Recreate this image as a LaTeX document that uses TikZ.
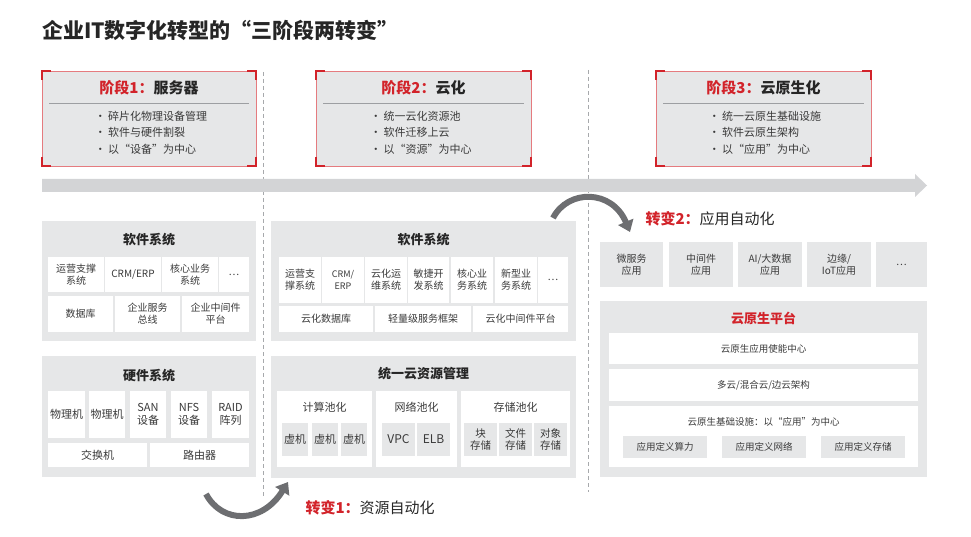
\documentclass[tikz,border=0pt]{standalone}
\usepackage{fontspec}
\setmainfont{Noto Sans CJK SC}
\usetikzlibrary{arrows.meta}
\definecolor{pgray}{HTML}{E6E7E8}
\definecolor{band}{HTML}{D3D4D6}
\definecolor{hred}{HTML}{D2232A}
\definecolor{lred}{HTML}{E57B7F}
\definecolor{txt}{HTML}{3A3A3A}
\definecolor{dtxt}{HTML}{262626}
\definecolor{swg}{HTML}{6D6E71}
\definecolor{dashc}{HTML}{A7A9AC}
\definecolor{sepc}{HTML}{9D9FA2}
\newcommand\bx[7]{\node[#2, anchor=north west, minimum width={(#5-#3)*1pt}, minimum height={(#6-#4)*1pt}] (#1) at (#3,#4) {#7};}
\tikzset{
  panel/.style={fill=pgray, inner sep=0pt, outer sep=0pt},
  hbox/.style={fill=pgray, draw=lred, line width=0.8pt, inner sep=0pt, outer sep=0pt},
  corner/.style={draw=hred, line width=2pt},
  cell/.style={fill=white, inner sep=0pt, outer sep=0pt, align=center, text=txt, font=\fontsize{10}{12}\selectfont},
  gcell/.style={cell, fill=pgray},
  bcell/.style={cell, font=\fontsize{11}{13}\selectfont},
  gbcell/.style={gcell, font=\fontsize{11}{13}\selectfont},
  ptitle/.style={text=dtxt, font=\fontsize{13}{15}\selectfont\bfseries},
  stitle/.style={text=txt, font=\fontsize{11}{13}\selectfont},
  htitle/.style={text=dtxt, font=\fontsize{15}{18}\selectfont\bfseries},
  hbul/.style={text=txt, align=left, font=\fontsize{11}{16.5}\selectfont, inner sep=0pt},
  sepline/.style={draw=sepc, line width=0.9pt},
  dline/.style={draw=dashc, line width=1pt, dash pattern=on 4pt off 3pt},
  swoosh/.style={draw=swg, line width=6pt, -{Triangle[width=16pt,length=11pt]}},
  trans/.style={anchor=west, text=dtxt, font=\fontsize{15}{18}\selectfont},
}
\begin{document}
\begin{tikzpicture}[x=1pt,y=-1pt]
\useasboundingbox (0,0) rectangle (971,537);
% title
\node[anchor=west, text=dtxt, font=\fontsize{21}{25}\selectfont\bfseries, inner sep=0pt] (title) at (42,30) {企业IT数字化转型的“三阶段两转变”};
% dashed separators
\coordinate (d1a) at (263,72); \coordinate (d1b) at (263,497);
\coordinate (d2a) at (588,70); \coordinate (d2b) at (588,492);
\draw[dline] (d1a) -- (d1b);
\draw[dline] (d2a) -- (d2b);
% timeline band
\fill[band] (42,179) -- (915,179) -- (915,174) -- (927,185.5) -- (915,197) -- (915,192) -- (42,192) -- cycle;
% header boxes
\bx{h1}{hbox}{42}{71}{256}{166}{}
\bx{h2}{hbox}{316}{71}{531}{166}{}
\bx{h3}{hbox}{656}{71}{871}{166}{}
\foreach \n in {h1,h2,h3}{
  \draw[corner] ([yshift=-9pt]\n.north west) -- (\n.north west) -- ([xshift=9pt]\n.north west);
  \draw[corner] ([yshift=-9pt]\n.north east) -- (\n.north east) -- ([xshift=-9pt]\n.north east);
  \draw[corner] ([yshift=9pt]\n.south west) -- (\n.south west) -- ([xshift=9pt]\n.south west);
  \draw[corner] ([yshift=9pt]\n.south east) -- (\n.south east) -- ([xshift=-9pt]\n.south east);
}
\node[htitle] (h1t) at (149,88) {\textcolor{hred}{阶段1：}服务器};
\node[htitle] (h2t) at (423.5,88) {\textcolor{hred}{阶段2：}云化};
\node[htitle] (h3t) at (763.5,88) {\textcolor{hred}{阶段3：}云原生化};
\draw[sepline] (49,103) -- (249,103);
\draw[sepline] (323,103) -- (524,103);
\draw[sepline] (663,103) -- (864,103);
\node[hbul] (h1b) at (151,132.5) {· 碎片化物理设备管理\\· 软件与硬件割裂\\· 以“设备”为中心};
\node[hbul] (h2b) at (421,132.5) {· 统一云化资源池\\· 软件迁移上云\\· 以“资源”为中心};
\node[hbul] (h3b) at (765,132.5) {· 统一云原生基础设施\\· 软件云原生架构\\· 以“应用”为中心};
% ---- left: software system
\bx{ls}{panel}{42}{221}{256}{341}{}
\node[ptitle] (lst) at (149,240) {软件系统};
\bx{ls1}{cell}{48}{257}{104}{292}{运营支撑\\系统}
\bx{ls2}{cell}{105}{257}{161}{292}{CRM/ERP}
\bx{ls3}{cell}{162}{257}{218}{292}{核心业务\\系统}
\bx{ls4}{cell}{219}{257}{249}{292}{…}
\bx{ls5}{cell}{48}{296}{113}{332}{数据库}
\bx{ls6}{cell}{115}{296}{180}{332}{企业服务\\总线}
\bx{ls7}{cell}{182}{296}{249}{332}{企业中间件\\平台}
% ---- left: hardware system
\bx{lh}{panel}{42}{356}{256}{477}{}
\node[ptitle] (lht) at (149,376) {硬件系统};
\bx{lh1}{bcell}{48}{391}{85}{438}{物理机}
\bx{lh2}{bcell}{89}{391}{125}{438}{物理机}
\bx{lh3}{bcell}{130}{391}{166}{438}{SAN\\设备}
\bx{lh4}{bcell}{171}{391}{207}{438}{NFS\\设备}
\bx{lh5}{bcell}{212}{391}{249}{438}{RAID\\阵列}
\bx{lh6}{bcell}{48}{443}{147}{467}{交换机}
\bx{lh7}{bcell}{150}{443}{249}{467}{路由器}
% ---- middle: software system
\bx{ms}{panel}{271}{221}{576}{341}{}
\node[ptitle] (mst) at (423.5,240) {软件系统};
\bx{ms1}{cell}{279}{257}{321}{303}{运营支\\撑系统}
\bx{ms2}{cell,font=\fontsize{9}{12}\selectfont}{322}{257}{364}{303}{CRM/\\ERP}
\bx{ms3}{cell}{365}{257}{407}{303}{云化运\\维系统}
\bx{ms4}{cell}{408}{257}{449}{303}{敏捷开\\发系统}
\bx{ms5}{cell}{451}{257}{493}{303}{核心业\\务系统}
\bx{ms6}{cell}{495}{257}{537}{303}{新型业\\务系统}
\bx{ms7}{cell}{538}{257}{568}{303}{…}
\bx{ms8}{cell}{279}{306}{373}{332}{云化数据库}
\bx{ms9}{cell}{375}{306}{471}{332}{轻量级服务框架}
\bx{ms10}{cell}{473}{306}{568}{332}{云化中间件平台}
% ---- middle: unified resource management
\bx{mr}{panel}{271}{356}{576}{478}{}
\node[ptitle] (mrt) at (423.5,374) {统一云资源管理};
\bx{mrA}{cell}{277}{391}{372}{467}{}
\bx{mrB}{cell}{376}{391}{457}{467}{}
\bx{mrC}{cell}{461}{391}{570}{467}{}
\node[stitle] (mrAt) at (324.5,407) {计算池化};
\node[stitle] (mrBt) at (416.5,407) {网络池化};
\node[stitle] (mrCt) at (515.5,407) {存储池化};
\bx{mr1}{gbcell}{282}{423}{308}{456}{虚机}
\bx{mr2}{gbcell}{312}{423}{338}{456}{虚机}
\bx{mr3}{gbcell}{341}{423}{367}{456}{虚机}
\bx{mr4}{gbcell,font=\fontsize{12}{14}\selectfont}{382}{423}{415}{456}{VPC}
\bx{mr5}{gbcell,font=\fontsize{12}{14}\selectfont}{417}{423}{450}{456}{ELB}
\bx{mr6}{gcell,font=\fontsize{10.5}{12.5}\selectfont}{464}{423}{497}{456}{块\\存储}
\bx{mr7}{gcell,font=\fontsize{10.5}{12.5}\selectfont}{499}{423}{532}{456}{文件\\存储}
\bx{mr8}{gcell,font=\fontsize{10.5}{12.5}\selectfont}{534}{423}{567}{456}{对象\\存储}
% ---- right: applications
\bx{ra1}{gcell}{600}{242}{663}{287}{微服务\\应用}
\bx{ra2}{gcell}{669}{242}{733}{287}{中间件\\应用}
\bx{ra3}{gcell}{738}{242}{802}{287}{AI/大数据\\应用}
\bx{ra4}{gcell}{807}{242}{871}{287}{边缘/\\IoT应用}
\bx{ra5}{gcell}{876}{242}{927}{287}{…}
% ---- right: cloud native platform
\bx{rp}{panel}{600}{301}{927}{477}{}
\node[ptitle, text=hred] (rpt) at (763.5,318) {云原生平台};
\bx{rp1}{cell,font=\fontsize{9.5}{12}\selectfont}{609}{333}{918}{364}{云原生应用使能中心}
\bx{rp2}{cell,font=\fontsize{9.5}{12}\selectfont}{609}{369}{918}{401}{多云/混合云/边云架构}
\bx{rp3}{cell}{609}{406}{918}{467}{}
\node[text=txt, font=\fontsize{9.5}{12}\selectfont] (rp3t) at (763.5,422) {云原生基础设施：以“应用”为中心};
\bx{rp4}{gcell,font=\fontsize{9.5}{12}\selectfont}{623}{436}{707}{458}{应用定义算力}
\bx{rp5}{gcell,font=\fontsize{9.5}{12}\selectfont}{722}{436}{806}{458}{应用定义网络}
\bx{rp6}{gcell,font=\fontsize{9.5}{12}\selectfont}{821}{436}{905}{458}{应用定义存储}
% ---- transitions
\coordinate (t1a) at (206,494); \coordinate (t1b) at (288,482);
\draw[swoosh] (t1a) .. controls (222,524) and (262,524) .. (t1b);
\node[trans] (t1) at (302,508) {\textcolor{hred}{\bfseries 转变1：}资源自动化};
\coordinate (t2a) at (553,218); \coordinate (t2b) at (630,232);
\draw[swoosh] (t2a) .. controls (568,189) and (612,189) .. (t2b);
\node[trans] (t2) at (642,219) {\textcolor{hred}{\bfseries 转变2：}应用自动化};
\end{tikzpicture}
\end{document}
